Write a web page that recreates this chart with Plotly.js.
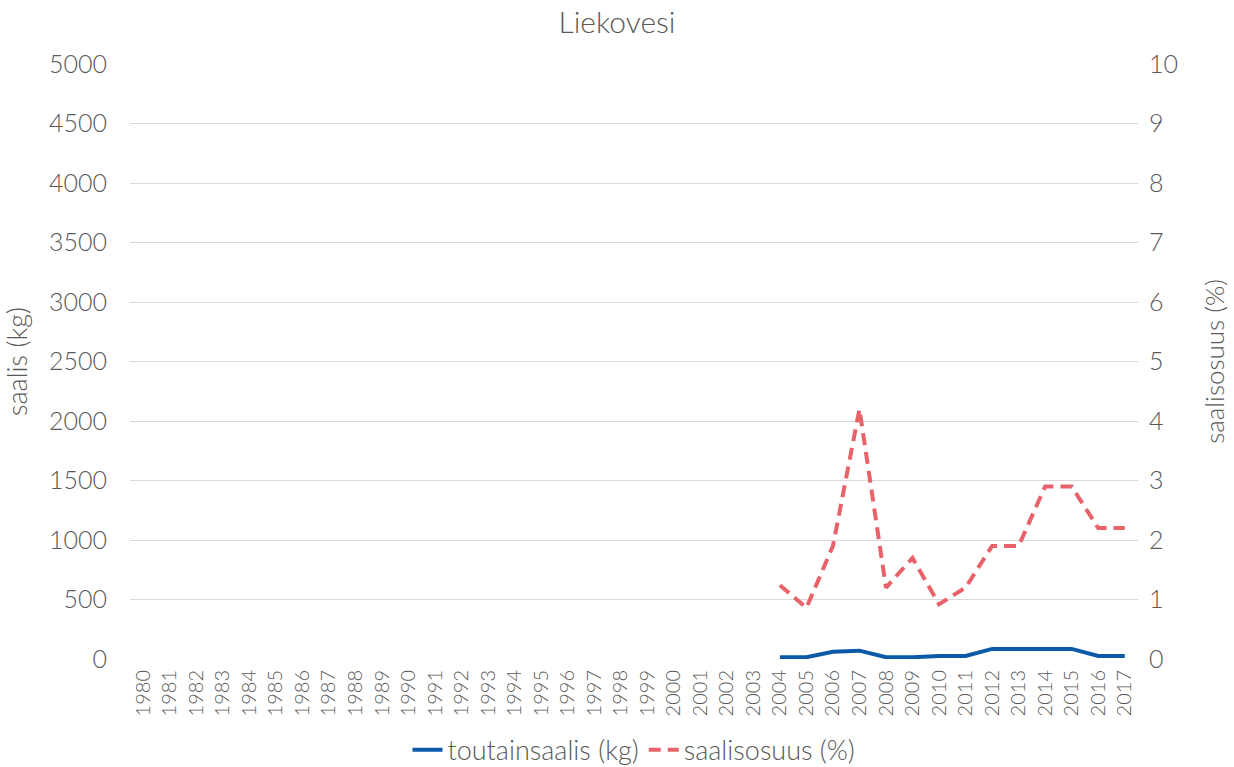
<!DOCTYPE html>
<html>
<head>
<meta charset="utf-8">
<script src="https://cdn.plot.ly/plotly-3.0.1.min.js"></script>
<style>html,body{margin:0;padding:0;background:#fff;}#chart{width:1234px;height:767px;}</style>
</head>
<body>
<div id="chart"></div>
<script>
const years = [];
for (let y = 1980; y <= 2017; y++) years.push(String(y));
const catchYears = ["2004","2005","2006","2007","2008","2009","2010","2011","2012","2013","2014","2015","2016","2017"];
const catchKg = [15, 15, 60, 70, 15, 15, 25, 25, 85, 85, 85, 85, 25, 25];
const sharePct = [1.24, 0.86, 1.9, 4.2, 1.2, 1.7, 0.92, 1.2, 1.9, 1.9, 2.9, 2.9, 2.2, 2.2];
const leftTicks = [0,500,1000,1500,2000,2500,3000,3500,4000,4500,5000];
const rightTicks = [0,1,2,3,4,5,6,7,8,9,10];

const fontFam = "Lato, 'Open Sans', sans-serif";
const grey = "#595959";
const w = 300;

const traces = [
  {x: catchYears, y: catchKg, name: "toutainsaalis (kg)", type: "scatter", mode: "lines",
   line: {color: "#0A5AA8", width: 4}, yaxis: "y"},
  {x: catchYears, y: sharePct, name: "saalisosuus (%)", type: "scatter", mode: "lines",
   line: {color: "#E8626A", width: 4, dash: "12px,7px"}, yaxis: "y2"}
];

const layout = {
  width: 1234, height: 767,
  margin: {l: 130, r: 96, t: 64, b: 108},
  paper_bgcolor: "#fff", plot_bgcolor: "#fff",
  font: {family: fontFam, color: grey, weight: w},
  title: {text: "Liekovesi", font: {size: 30, color: grey, family: fontFam, weight: w}, x: 0.5, xanchor: "center",
          yref: "container", y: 0.971, yanchor: "middle"},
  showlegend: true,
  legend: {orientation: "h", x: 0.5, xanchor: "center", yref: "container", y: 0.022, yanchor: "middle",
           font: {size: 27, color: grey, family: fontFam, weight: w}},
  xaxis: {type: "category", categoryorder: "array", categoryarray: years, tickvals: years, ticktext: years,
          range: [-0.5, years.length - 0.5], tickangle: -90, showgrid: false, showline: false, zeroline: false,
          automargin: false, ticks: "", tickfont: {size: 20, color: grey, family: fontFam, weight: w}, ticklabelstandoff: 6},
  yaxis: {range: [0, 5000], tickvals: leftTicks, ticktext: leftTicks.map(String), showgrid: true,
          gridcolor: "#d9d9d9", gridwidth: 1, zeroline: false, showline: false, ticks: "", automargin: false,
          tickfont: {size: 25, color: grey, family: fontFam, weight: w}, ticklabelstandoff: 22,
          title: {text: "saalis (kg)", font: {size: 27, color: grey, family: fontFam, weight: w}, standoff: 16}},
  yaxis2: {range: [0, 10], tickvals: rightTicks, ticktext: rightTicks.map(String), overlaying: "y", side: "right",
           showgrid: false, zeroline: false, showline: false, ticks: "", automargin: false,
           tickfont: {size: 25, color: grey, family: fontFam, weight: w}, ticklabelstandoff: 10,
           title: {text: "saalisosuus (%)", font: {size: 26, color: grey, family: fontFam, weight: w}, standoff: 28}}
};

Plotly.newPlot("chart", traces, layout, {displayModeBar: false, staticPlot: true});
</script>
</body>
</html>
